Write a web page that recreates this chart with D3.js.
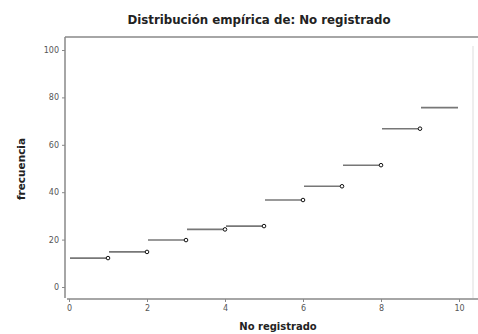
<!DOCTYPE html>
<html lang="es">
<head>
<meta charset="UTF-8">
<title>Distribución empírica</title>
<script src="https://d3js.org/d3.v7.min.js"></script>
<style>
  body { margin: 0; background: #fff; }
  text { font-family: "DejaVu Sans", Verdana, sans-serif; }
</style>
</head>
<body>
<svg class="chart" width="478" height="334"></svg>
<script>
  // datos
  const xSteps = [0, 1, 2, 3, 4, 5, 6, 7, 8, 9]
  const frecuencias = [12.2, 14.8, 19.8, 24.3, 25.7, 36.7, 42.5, 51.4, 66.8, 75.7]
  const xTicks = [0, 2, 4, 6, 8, 10]
  const yTicks = [0, 20, 40, 60, 80, 100]

  const svg = d3.select('.chart')
  const frame = { left: 65, top: 37, right: 473, bottom: 298 }

  const x = d3.scaleLinear().domain([0, 10]).range([69, 459])
  const y = d3.scaleLinear().domain([0, 100]).range([287, 50])

  // marco
  svg.append('line').attr('x1', frame.left).attr('x2', 478).attr('y1', frame.top).attr('y2', frame.top)
    .attr('stroke', '#888').attr('stroke-width', 1.5)
  svg.append('line').attr('x1', frame.right).attr('x2', frame.right).attr('y1', 46).attr('y2', frame.bottom)
    .attr('stroke', '#ddd').attr('stroke-width', 1)

  // ejes
  const yAxis = svg.append('g').attr('transform', `translate(${frame.left},0)`)
    .call(d3.axisLeft(y).tickValues(yTicks).tickSize(3).tickPadding(3))
  yAxis.select('.domain').attr('d', `M0,${frame.top}V${frame.bottom}`).attr('stroke', '#888').attr('stroke-width', 1.5)

  const xAxis = svg.append('g').attr('transform', `translate(0,${frame.bottom + 1})`)
    .call(d3.axisBottom(x).tickValues(xTicks).tickSize(3).tickPadding(3))
  xAxis.select('.domain').attr('d', `M67,0H478`).attr('stroke', '#888').attr('stroke-width', 1.5)

  svg.selectAll('.tick line').attr('stroke', '#888')
  svg.selectAll('.tick text').attr('fill', '#555').attr('font-size', 8)
    .attr('font-family', '"DejaVu Sans", Verdana, sans-serif')

  // escalones
  svg.append('g').selectAll('line')
    .data(xSteps)
    .join('line')
    .attr('x1', (d) => x(d) + 1)
    .attr('x2', (d) => x(d + 1) - 1)
    .attr('y1', (d, i) => y(frecuencias[i]))
    .attr('y2', (d, i) => y(frecuencias[i]))
    .attr('stroke', '#777')
    .attr('stroke-width', 1.6)

  svg.append('g').selectAll('circle')
    .data(xSteps.slice(0, -1))
    .join('circle')
    .attr('cx', (d) => x(d + 1))
    .attr('cy', (d, i) => y(frecuencias[i]))
    .attr('r', 1.8)
    .attr('fill', '#fff')
    .attr('stroke', '#111')
    .attr('stroke-width', 1)

  // títulos
  svg.append('text').attr('x', 259).attr('y', 24).attr('text-anchor', 'middle')
    .attr('font-size', 11.8).attr('font-weight', 'bold').attr('fill', '#222')
    .text('Distribución empírica de: No registrado')

  svg.append('text').attr('x', 278).attr('y', 330).attr('text-anchor', 'middle')
    .attr('font-size', 10).attr('font-weight', 'bold').attr('fill', '#222')
    .text('No registrado')

  svg.append('text').attr('transform', 'translate(25,169) rotate(-90)').attr('text-anchor', 'middle')
    .attr('font-size', 10.5).attr('font-weight', 'bold').attr('fill', '#222')
    .text('frecuencia')
</script>
</body>
</html>
